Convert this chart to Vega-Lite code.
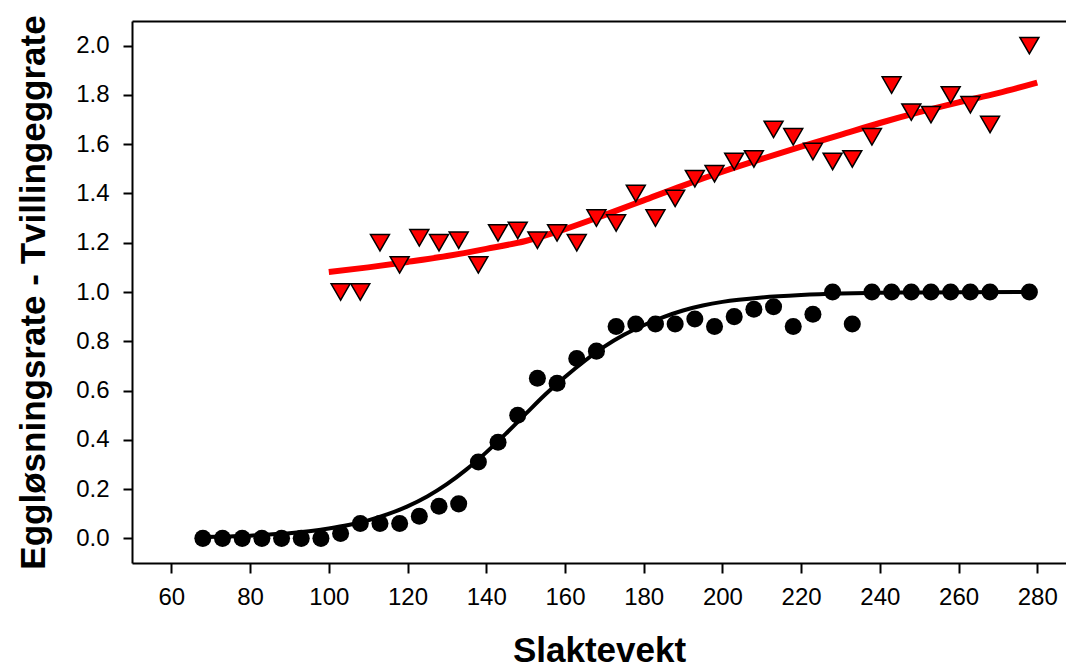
{
  "$schema": "https://vega.github.io/schema/vega-lite/v6.json",
  "width": 934,
  "height": 542,
  "autosize": {"type": "none"},
  "padding": {"left": 132, "top": 21, "right": 0, "bottom": 107},
  "background": "white",
  "config": {
    "view": {"stroke": null},
    "font": "Liberation Sans",
    "axis": {
      "grid": false,
      "domainColor": "black",
      "domainWidth": 2,
      "tickColor": "black",
      "tickWidth": 2,
      "labelColor": "black",
      "titleColor": "black",
      "labelFont": "Liberation Sans",
      "titleFont": "Liberation Sans"
    }
  },
  "datasets": {
    "ovul": [
      {"w": 68, "v": 0}, {"w": 73, "v": 0}, {"w": 78, "v": 0}, {"w": 83, "v": 0},
      {"w": 88, "v": 0}, {"w": 93, "v": 0}, {"w": 98, "v": 0}, {"w": 103, "v": 0.02},
      {"w": 108, "v": 0.06}, {"w": 113, "v": 0.06}, {"w": 118, "v": 0.06}, {"w": 123, "v": 0.09},
      {"w": 128, "v": 0.13}, {"w": 133, "v": 0.14}, {"w": 138, "v": 0.31}, {"w": 143, "v": 0.39},
      {"w": 148, "v": 0.5}, {"w": 153, "v": 0.65}, {"w": 158, "v": 0.63}, {"w": 163, "v": 0.73},
      {"w": 168, "v": 0.76}, {"w": 173, "v": 0.86}, {"w": 178, "v": 0.87}, {"w": 183, "v": 0.87},
      {"w": 188, "v": 0.87}, {"w": 193, "v": 0.89}, {"w": 198, "v": 0.86}, {"w": 203, "v": 0.9},
      {"w": 208, "v": 0.93}, {"w": 213, "v": 0.94}, {"w": 218, "v": 0.86}, {"w": 223, "v": 0.91},
      {"w": 228, "v": 1.0}, {"w": 233, "v": 0.87}, {"w": 238, "v": 1.0}, {"w": 243, "v": 1.0},
      {"w": 248, "v": 1.0}, {"w": 253, "v": 1.0}, {"w": 258, "v": 1.0}, {"w": 263, "v": 1.0},
      {"w": 268, "v": 1.0}, {"w": 278, "v": 1.0}
    ],
    "twin": [
      {"w": 103, "v": 1.0}, {"w": 108, "v": 1.0}, {"w": 113, "v": 1.2}, {"w": 118, "v": 1.11},
      {"w": 123, "v": 1.22}, {"w": 128, "v": 1.2}, {"w": 133, "v": 1.21}, {"w": 138, "v": 1.11},
      {"w": 143, "v": 1.24}, {"w": 148, "v": 1.25}, {"w": 153, "v": 1.21}, {"w": 158, "v": 1.24},
      {"w": 163, "v": 1.2}, {"w": 168, "v": 1.3}, {"w": 173, "v": 1.28}, {"w": 178, "v": 1.4},
      {"w": 183, "v": 1.3}, {"w": 188, "v": 1.38}, {"w": 193, "v": 1.46}, {"w": 198, "v": 1.48},
      {"w": 203, "v": 1.53}, {"w": 208, "v": 1.54}, {"w": 213, "v": 1.66}, {"w": 218, "v": 1.63},
      {"w": 223, "v": 1.57}, {"w": 228, "v": 1.53}, {"w": 233, "v": 1.54}, {"w": 238, "v": 1.63},
      {"w": 243, "v": 1.84}, {"w": 248, "v": 1.73}, {"w": 253, "v": 1.72}, {"w": 258, "v": 1.8},
      {"w": 263, "v": 1.76}, {"w": 268, "v": 1.68}, {"w": 278, "v": 2.0}
    ],
    "ovulFit": [
      {"w": 68, "v": 0.005}, {"w": 75, "v": 0.008}, {"w": 80, "v": 0.011}, {"w": 85, "v": 0.016},
      {"w": 90, "v": 0.021}, {"w": 95, "v": 0.029}, {"w": 100, "v": 0.04}, {"w": 105, "v": 0.054},
      {"w": 110, "v": 0.073}, {"w": 115, "v": 0.098}, {"w": 120, "v": 0.13}, {"w": 125, "v": 0.17},
      {"w": 130, "v": 0.22}, {"w": 135, "v": 0.28}, {"w": 140, "v": 0.349}, {"w": 145, "v": 0.425},
      {"w": 150, "v": 0.505}, {"w": 155, "v": 0.584}, {"w": 160, "v": 0.655}, {"w": 165, "v": 0.72},
      {"w": 170, "v": 0.778}, {"w": 175, "v": 0.826}, {"w": 180, "v": 0.865}, {"w": 185, "v": 0.898},
      {"w": 190, "v": 0.925}, {"w": 195, "v": 0.945}, {"w": 200, "v": 0.96}, {"w": 210, "v": 0.978},
      {"w": 220, "v": 0.988}, {"w": 230, "v": 0.994}, {"w": 240, "v": 0.997}, {"w": 250, "v": 0.998},
      {"w": 260, "v": 0.999}, {"w": 278, "v": 1.0}
    ],
    "twinFit": [
      {"w": 100, "v": 1.081}, {"w": 110, "v": 1.1}, {"w": 120, "v": 1.122}, {"w": 130, "v": 1.146},
      {"w": 140, "v": 1.175}, {"w": 150, "v": 1.207}, {"w": 160, "v": 1.255}, {"w": 170, "v": 1.312},
      {"w": 180, "v": 1.372}, {"w": 190, "v": 1.432}, {"w": 200, "v": 1.488}, {"w": 210, "v": 1.54},
      {"w": 220, "v": 1.59}, {"w": 230, "v": 1.638}, {"w": 240, "v": 1.686}, {"w": 250, "v": 1.73},
      {"w": 260, "v": 1.77}, {"w": 270, "v": 1.807}, {"w": 280, "v": 1.85}
    ]
  },
  "layer": [
    {
      "data": {"name": "ovulFit"},
      "mark": {"type": "line", "color": "black", "strokeWidth": 4, "interpolate": "monotone"},
      "encoding": {
        "x": {
          "field": "w", "type": "quantitative",
          "scale": {"domain": [50, 287.3], "nice": false, "zero": false},
          "axis": {
            "orient": "bottom",
            "values": [60, 80, 100, 120, 140, 160, 180, 200, 220, 240, 260, 280],
            "tickSize": 10,
            "labelPadding": 12,
            "labelFontSize": 24,
            "title": "Slaktevekt",
            "titleFontSize": 35,
            "titleFontWeight": "bold",
            "titlePadding": 24
          }
        },
        "y": {
          "field": "v", "type": "quantitative",
          "scale": {"domain": [-0.1, 2.1], "nice": false, "zero": false},
          "axis": {
            "values": [0, 0.2, 0.4, 0.6, 0.8, 1.0, 1.2, 1.4, 1.6, 1.8, 2.0],
            "format": ".1f",
            "tickSize": 9,
            "labelPadding": 14,
            "labelFontSize": 24,
            "title": "Eggløsningsrate - Tvillingeggrate",
            "titleFontSize": 35,
            "titleFontWeight": "bold",
            "titlePadding": 24
          }
        }
      }
    },
    {
      "data": {"name": "twinFit"},
      "mark": {"type": "line", "color": "#ff0000", "strokeWidth": 6, "interpolate": "monotone"},
      "encoding": {
        "x": {
          "field": "w", "type": "quantitative",
          "scale": {"domain": [50, 287.3], "nice": false, "zero": false},
          "axis": {"orient": "top", "labels": false, "ticks": false, "title": null}
        },
        "y": {"field": "v", "type": "quantitative"}
      }
    },
    {
      "data": {"name": "ovul"},
      "mark": {"type": "point", "shape": "circle", "filled": true, "color": "black", "opacity": 1, "size": 290},
      "encoding": {
        "x": {"field": "w", "type": "quantitative", "axis": null},
        "y": {"field": "v", "type": "quantitative"}
      }
    },
    {
      "data": {"name": "twin"},
      "mark": {"type": "point", "shape": "triangle-down", "filled": true, "fill": "#ff0000", "stroke": "black", "strokeWidth": 1.5, "opacity": 1, "size": 360},
      "encoding": {
        "x": {"field": "w", "type": "quantitative", "axis": null},
        "y": {"field": "v", "type": "quantitative"}
      }
    }
  ],
  "resolve": {"axis": {"x": "independent"}}
}
